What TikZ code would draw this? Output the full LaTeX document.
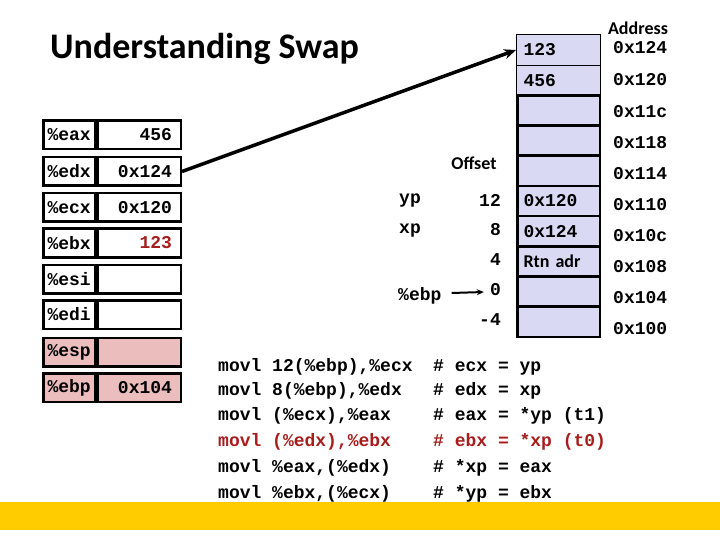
\documentclass[tikz,border=0pt]{standalone}
\usepackage{fontspec}
\setmainfont{Carlito}
\setmonofont{Liberation Mono}
\usetikzlibrary{arrows.meta, calc}

\definecolor{stackfill}{HTML}{D9D9F3}
\definecolor{regpink}{HTML}{EBBDBD}
\definecolor{codered}{HTML}{A81C1C}
\definecolor{bandyellow}{HTML}{FFCC00}

\begin{document}
\begin{tikzpicture}[
x=1pt, y=-1pt,
monofont/.style={font=\fontsize{18}{20}\selectfont\ttfamily\bfseries},
sansfont/.style={font=\fontsize{18}{20}\selectfont\bfseries},
regname/.style={draw, line width=2.5pt, minimum width=51.5pt, minimum height=28.5pt, inner xsep=4pt, text width=43pt, align=left, monofont},
regval/.style={draw, line width=2.5pt, minimum width=83.5pt, minimum height=28.5pt, inner xsep=6pt, text width=66pt, align=right, monofont},
cell/.style={draw, fill=stackfill, line width=2.5pt, minimum width=82.5pt, minimum height=30.2pt, inner xsep=6pt, text width=70pt, align=left, monofont},
thincell/.style={cell, line width=1pt, minimum width=84pt},
addr/.style={anchor=west, inner sep=0pt, monofont},
codeline/.style={anchor=west, inner sep=0pt, monofont}
]

\useasboundingbox (0,0) rectangle (720,540);

%%%% TITLE

\path (50,49) node[anchor=west, inner sep=0pt, font=\fontsize{36}{40}\selectfont\bfseries](title){Understanding Swap};

%%%% REGISTERS

\node[regname](eaxN) at (69,135){\%eax};
\node[regval](eaxV) at (139,135){456};
\node[regname](edxN) at (69,171.5){\%edx};
\node[regval](edxV) at (139,171.5){0x124};
\node[regname](ecxN) at (69,207.5){\%ecx};
\node[regval](ecxV) at (139,207.5){0x120};
\node[regname](ebxN) at (69,243){\%ebx};
\node[regval, text=codered](ebxV) at (139,243){123};
\node[regname](esiN) at (69,279){\%esi};
\node[regval](esiV) at (139,279){};
\node[regname](ediN) at (69,314.5){\%edi};
\node[regval](ediV) at (139,314.5){};
\node[regname, fill=regpink](espN) at (69,352){\%esp};
\node[regval, fill=regpink](espV) at (139,352){};
\node[regname, fill=regpink](ebpN) at (69,387.5){\%ebp};
\node[regval, fill=regpink](ebpV) at (139,387.5){0x104};

%%%% STACK

\node[thincell](m124) at (558.5,50){123};
\node[thincell](m120) at (558.5,80.2){456};
\node[cell](m11c) at (558.5,110.4){};
\node[cell](m118) at (558.5,140.6){};
\node[cell](m114) at (558.5,170.8){};
\node[cell](m110) at (558.5,201){0x120};
\node[cell](m10c) at (558.5,231.2){0x124};
\node[cell, sansfont](m108) at (558.5,261.4){Rtn adr};
\node[cell](m104) at (558.5,291.6){};
\node[cell](m100) at (558.5,321.8){};

%% addresses
\path (638,28) node[sansfont, inner sep=0pt](address){Address};
\path (613,48) node[addr](a124){0x124};
\path (613,80) node[addr](a120){0x120};
\path (613,112) node[addr](a11c){0x11c};
\path (613,143) node[addr](a118){0x118};
\path (613,174) node[addr](a114){0x114};
\path (613,205) node[addr](a110){0x110};
\path (613,236) node[addr](a10c){0x10c};
\path (613,267) node[addr](a108){0x108};
\path (613,298) node[addr](a104){0x104};
\path (613,329) node[addr](a100){0x100};

%% offsets
\path (474,163) node[sansfont, inner sep=0pt](offset){Offset};
\path (501,200) node[anchor=east, inner sep=0pt, monofont](o12){12};
\path (501,230) node[anchor=east, inner sep=0pt, monofont](o8){8};
\path (501,260) node[anchor=east, inner sep=0pt, monofont](o4){4};
\path (501,290) node[anchor=east, inner sep=0pt, monofont](o0){0};
\path (501,320) node[anchor=east, inner sep=0pt, monofont](om4){-4};

\path (399,201) node[anchor=west, inner sep=0pt, monofont](yp){yp};
\path (399,231) node[anchor=west, inner sep=0pt, monofont](xp){xp};
\path (398,296) node[anchor=west, inner sep=0pt, monofont](ebp){\%ebp};
\draw[line width=2pt, -{Stealth[length=7pt, width=6pt]}] (ebp.east)++(10,-3)coordinate(e1) -- ($(o0.west)+(-6,2)$);

%% pointer
\draw[line width=3.5pt, -{Stealth[length=12pt, width=10pt]}] (edxV.east) -- (m124.west);

%%%% CODE

\path (218,367) node[codeline](c1){movl 12(\%ebp),\%ecx};
\path (218,391) node[codeline](c2){movl 8(\%ebp),\%edx};
\path (218,416) node[codeline](c3){movl (\%ecx),\%eax};
\path (218,442) node[codeline, text=codered](c4){movl (\%edx),\%ebx};
\path (218,468) node[codeline](c5){movl \%eax,(\%edx)};
\path (218,494) node[codeline](c6){movl \%ebx,(\%ecx)};

\path (433,367) node[codeline](k1){\# ecx = yp};
\path (433,391) node[codeline](k2){\# edx = xp};
\path (433,416) node[codeline](k3){\# eax = *yp (t1)};
\path (433,442) node[codeline, text=codered](k4){\# ebx = *xp (t0)};
\path (433,468) node[codeline](k5){\# *xp = eax};
\path (433,494) node[codeline](k6){\# *yp = ebx};

%% band
\fill[bandyellow] (0,502) rectangle (720,530);

\end{tikzpicture}
\end{document}
